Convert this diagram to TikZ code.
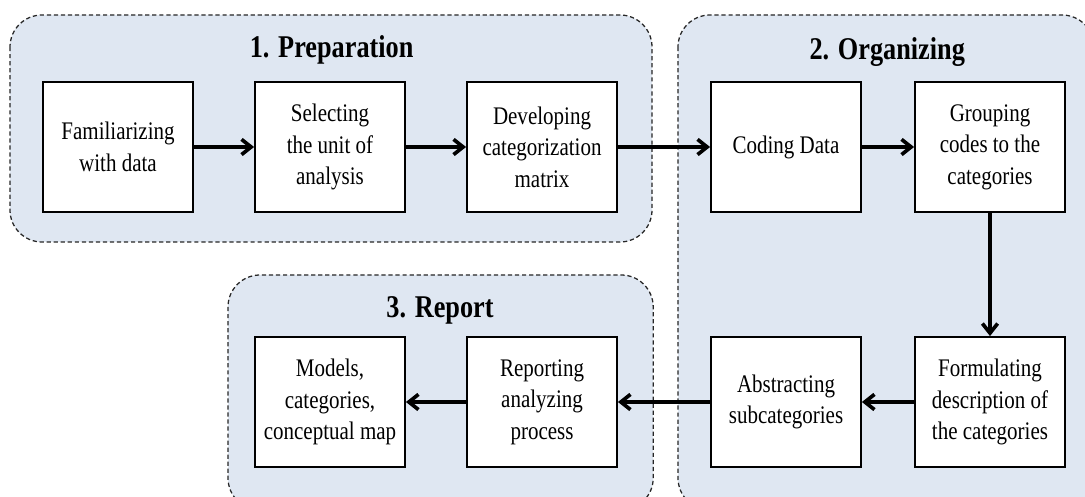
\documentclass[tikz,border=0pt]{standalone}
\usepackage{fontspec}
\setmainfont[FakeStretch=0.83]{Liberation Serif}
\usetikzlibrary{arrows.meta}
\definecolor{phasebg}{RGB}{223,231,242}

\begin{document}
\begin{tikzpicture}[
  stepbox/.style={draw, line width=1.3pt, fill=white, minimum width=3.75cm,
    minimum height=3.25cm, align=center, font=\fontsize{18}{22.4}\selectfont},
  phase/.style={draw=black!85, densely dashed, line width=0.9pt, fill=phasebg,
    rounded corners=0.8cm},
  phasetitle/.style={anchor=base, font=\fontsize{22.5}{27}\selectfont\bfseries},
  arr/.style={-{Straight Barb[length=2.4mm,width=3.8mm]}, line width=2.6pt}
]
\useasboundingbox (0,0) rectangle (27.125,-12.425);

% phases
\draw [phase] (0.25,-0.375) rectangle (16.3,-6.05);
\draw [phase] (16.95,-0.375) rectangle (27.35,-12.75);
\draw [phase] (5.7,-6.875) rectangle (16.33,-12.75);

\node [phasetitle] (prep) at (8.29,-1.45) {1. Preparation};
\node [phasetitle] (org) at (22.18,-1.5) {2. Organizing};
\node [phasetitle] (rep) at (11.0,-7.95) {3. Report};

% steps
\node [stepbox] (fam) at (2.95,-3.675) {Familiarizing\\with data};
\node [stepbox] (sel) at (8.25,-3.675) {Selecting\\the unit of\\analysis};
\node [stepbox] (dev) at (13.55,-3.675) {Developing\\categorization\\matrix};
\node [stepbox] (cod) at (19.65,-3.675) {Coding Data};
\node [stepbox] (grp) at (24.75,-3.675) {Grouping\\codes to the\\categories};
\node [stepbox] (frm) at (24.75,-10.05) {Formulating\\description of\\the categories};
\node [stepbox] (abs) at (19.65,-10.05) {Abstracting\\subcategories};
\node [stepbox] (rpt) at (13.55,-10.05) {Reporting\\analyzing\\process};
\node [stepbox] (mod) at (8.25,-10.05) {Models,\\categories,\\conceptual map};

\path (fam) edge [arr] (sel);
\path (sel) edge [arr] (dev);
\path (dev) edge [arr] (cod);
\path (cod) edge [arr] (grp);
\path (grp) edge [arr] (frm);
\path (frm) edge [arr] (abs);
\path (abs) edge [arr] (rpt);
\path (rpt) edge [arr] (mod);
\end{tikzpicture}
\end{document}
